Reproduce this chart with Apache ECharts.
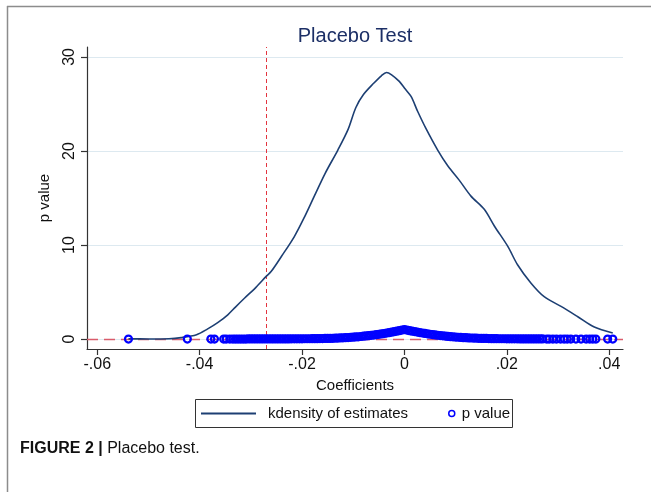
<!DOCTYPE html>
<html>
<head>
<meta charset="utf-8">
<script src="https://cdn.jsdelivr.net/npm/echarts@6/dist/echarts.min.js"></script>
<style>
html,body{margin:0;padding:0;background:#fff;}
#chart{width:651px;height:492px;}
</style>
</head>
<body>
<div id="chart"></div>
<script>
// Tick labels
var xTicks = [-0.06, -0.04, -0.02, 0, 0.02, 0.04];
var yTicks = [0, 10, 20, 30];

// kdensity of estimates: [coefficient, density]
var kdensity = [
  [-0.0539, 0.02], [-0.0500, 0.01], [-0.0460, 0.03], [-0.0436, 0.15], [-0.0406, 0.46],
  [-0.0385, 1.05], [-0.0364, 1.77], [-0.0345, 2.58], [-0.0330, 3.40], [-0.0312, 4.36],
  [-0.0290, 5.50], [-0.0270, 6.66], [-0.0260, 7.20], [-0.0240, 8.80], [-0.0215, 10.9],
  [-0.0195, 13.0], [-0.0176, 15.2], [-0.0155, 17.6], [-0.0130, 20.1], [-0.0110, 22.3],
  [-0.0095, 24.6], [-0.0080, 26.0], [-0.0060, 27.2], [-0.0045, 28.0], [-0.0035, 28.35],
  [-0.0025, 28.1], [-0.0010, 27.4], [0.0000, 26.7], [0.0013, 25.8], [0.0026, 24.2],
  [0.0042, 22.4], [0.0065, 20.1], [0.0085, 18.4], [0.0107, 16.9], [0.0130, 15.2],
  [0.0156, 13.8], [0.0176, 12.0], [0.0202, 9.85], [0.0221, 7.9], [0.0247, 5.96],
  [0.0273, 4.5], [0.0306, 3.47], [0.0338, 2.4], [0.0371, 1.27], [0.0407, 0.64]
];

// p value of each placebo estimate: [coefficient, p]
var pvalues = [
  [-0.0539, 0.00], [-0.0424, 0.00], [-0.0378, 0.00], [-0.0371, 0.00], [-0.0353, 0.00],
  [-0.0348, 0.00], [-0.0341, 0.00],
  [-0.0335, 0.00], [-0.0330, 0.00], [-0.0325, 0.00], [-0.0320, 0.00], [-0.0315, 0.00],
  [-0.0310, 0.00], [-0.0305, 0.01], [-0.0300, 0.01], [-0.0295, 0.01], [-0.0290, 0.01],
  [-0.0285, 0.01], [-0.0280, 0.01], [-0.0275, 0.01], [-0.0270, 0.01], [-0.0265, 0.01],
  [-0.0260, 0.01], [-0.0255, 0.01], [-0.0250, 0.01], [-0.0245, 0.01], [-0.0240, 0.01],
  [-0.0235, 0.01], [-0.0230, 0.01], [-0.0225, 0.01], [-0.0220, 0.02], [-0.0215, 0.02],
  [-0.0210, 0.02], [-0.0205, 0.02], [-0.0200, 0.02], [-0.0195, 0.03], [-0.0190, 0.03],
  [-0.0185, 0.03], [-0.0180, 0.04], [-0.0175, 0.04], [-0.0170, 0.04], [-0.0165, 0.05],
  [-0.0160, 0.05], [-0.0155, 0.06], [-0.0150, 0.07], [-0.0145, 0.07], [-0.0140, 0.08],
  [-0.0135, 0.09], [-0.0130, 0.10], [-0.0125, 0.12], [-0.0120, 0.13], [-0.0115, 0.15],
  [-0.0110, 0.16], [-0.0105, 0.18], [-0.0100, 0.20], [-0.0095, 0.22], [-0.0090, 0.24],
  [-0.0085, 0.27], [-0.0080, 0.30], [-0.0075, 0.33], [-0.0070, 0.36], [-0.0065, 0.39],
  [-0.0060, 0.42], [-0.0055, 0.46], [-0.0050, 0.50], [-0.0045, 0.54], [-0.0040, 0.58],
  [-0.0035, 0.63], [-0.0030, 0.68], [-0.0025, 0.73], [-0.0020, 0.78], [-0.0015, 0.84],
  [-0.0010, 0.89], [-0.0005, 0.95], [0.0000, 1.00], [0.0005, 0.95], [0.0010, 0.89],
  [0.0015, 0.84], [0.0020, 0.79], [0.0025, 0.74], [0.0030, 0.69], [0.0035, 0.64],
  [0.0040, 0.60], [0.0045, 0.55], [0.0050, 0.51], [0.0055, 0.47], [0.0060, 0.44],
  [0.0065, 0.40], [0.0070, 0.37], [0.0075, 0.34], [0.0080, 0.31], [0.0085, 0.28],
  [0.0090, 0.25], [0.0095, 0.23], [0.0100, 0.21], [0.0105, 0.19], [0.0110, 0.17],
  [0.0115, 0.15], [0.0120, 0.14], [0.0125, 0.12], [0.0130, 0.11], [0.0135, 0.10],
  [0.0140, 0.09], [0.0145, 0.08], [0.0150, 0.07], [0.0155, 0.06], [0.0160, 0.06],
  [0.0165, 0.05], [0.0170, 0.04], [0.0175, 0.04], [0.0180, 0.04], [0.0185, 0.03],
  [0.0190, 0.03], [0.0195, 0.03], [0.0200, 0.02], [0.0205, 0.02], [0.0210, 0.02],
  [0.0215, 0.02], [0.0220, 0.02], [0.0225, 0.01], [0.0230, 0.01], [0.0235, 0.01],
  [0.0240, 0.01], [0.0245, 0.01], [0.0250, 0.01], [0.0255, 0.01], [0.0260, 0.01],
  [0.0265, 0.01], [0.0270, 0.01],
  [0.0278, 0.00], [0.0283, 0.00], [0.0290, 0.00], [0.0297, 0.00], [0.0305, 0.00],
  [0.0312, 0.00], [0.0318, 0.00], [0.0325, 0.00], [0.0335, 0.00], [0.0345, 0.00],
  [0.0355, 0.00], [0.0362, 0.00], [0.0368, 0.00], [0.0374, 0.00], [0.0397, 0.00],
  [0.0407, 0.00]
];

// reference lines
var actualEstimate = -0.027;
var zeroLine = 0;

var FONT = '"Liberation Sans", Arial, sans-serif';
var chart = echarts.init(document.getElementById('chart'), null, {renderer: 'canvas'});

function fmtTick(v) {
  if (Math.abs(v) < 1e-9) return '0';
  var s = (Math.round(v * 100) / 100).toString();
  return s.replace('0.', '.');
}

var option = {
  backgroundColor: '#ffffff',
  animation: false,
  title: {
    text: 'Placebo Test',
    left: 350,
    top: 21,
    textAlign: 'center',
    textStyle: {fontFamily: FONT, fontSize: 20, fontWeight: 'normal', color: '#1c2f66'}
  },
  grid: {left: 87, right: 28, top: 47, bottom: 143, containLabel: false},
  xAxis: {
    type: 'value',
    min: -0.062,
    max: 0.0427,
    name: 'Coefficients',
    nameLocation: 'middle',
    nameGap: 29,
    nameTextStyle: {fontFamily: FONT, fontSize: 15, color: '#111'},
    axisLine: {show: true, onZero: false, lineStyle: {color: '#333', width: 1.2}},
    axisTick: {show: true, length: 6, inside: false, customValues: xTicks, lineStyle: {color: '#333', width: 1.2}},
    axisLabel: {customValues: xTicks, formatter: fmtTick, fontFamily: FONT, fontSize: 16, color: '#111', margin: 8},
    splitLine: {show: false}
  },
  yAxis: {
    type: 'value',
    min: -1.06,
    max: 31.06,
    name: 'p value',
    nameLocation: 'middle',
    nameGap: 35,
    nameTextStyle: {fontFamily: FONT, fontSize: 15, color: '#111'},
    axisLine: {show: true, onZero: false, lineStyle: {color: '#333', width: 1.2}},
    axisTick: {show: true, length: 6, customValues: yTicks, lineStyle: {color: '#333', width: 1.2}},
    axisLabel: {customValues: yTicks, rotate: 90, fontFamily: FONT, fontSize: 16, color: '#111', margin: 9},
    splitLine: {show: true, lineStyle: {color: '#dde9f0', width: 1}}
  },
  legend: [
    {
      data: [{name: 'kdensity of estimates', icon: 'rect', itemStyle: {color: '#1d3f73'}}],
      left: 201, top: 406,
      itemWidth: 55, itemHeight: 2,
      padding: 0,
      selectedMode: false,
      textStyle: {fontFamily: FONT, fontSize: 15, color: '#111', padding: [0, 0, 0, 7]}
    },
    {
      data: [{name: 'p value', icon: 'circle', itemStyle: {color: 'transparent', borderColor: '#0000ff', borderWidth: 1.5}}],
      left: 448, top: 406,
      itemWidth: 6, itemHeight: 6,
      padding: 0,
      selectedMode: false,
      textStyle: {fontFamily: FONT, fontSize: 15, color: '#111', padding: [0, 0, 0, 2]}
    }
  ],
  series: [
    {
      name: 'kdensity of estimates',
      type: 'line',
      data: kdensity,
      smooth: 0.3,
      showSymbol: false,
      symbol: 'none',
      lineStyle: {color: '#1d3f73', width: 1.6},
      itemStyle: {color: '#1d3f73'},
      z: 3,
      markLine: {
        silent: true,
        precision: 6,
        z: 1,
        symbol: ['none', 'none'],
        label: {show: false},
        animation: false,
        lineStyle: {color: '#e3343f', type: [4, 3], width: 1, opacity: 1},
        emphasis: {disabled: true},
        data: [
          [{coord: [actualEstimate, -1.06]}, {coord: [actualEstimate, 31.06]}]
        ]
      }
    },
    {
      name: 'p value',
      type: 'scatter',
      data: pvalues,
      symbol: 'circle',
      symbolSize: 7,
      itemStyle: {color: 'transparent', borderColor: '#0000ff', borderWidth: 2.2, opacity: 1},
      z: 4,
      markLine: {
        silent: true,
        precision: 6,
        z: 1,
        symbol: ['none', 'none'],
        label: {show: false},
        animation: false,
        lineStyle: {color: '#d95c6b', type: [11, 6], width: 1.3, opacity: 1},
        emphasis: {disabled: true},
        data: [
          [{coord: [-0.062, zeroLine]}, {coord: [0.0427, zeroLine]}]
        ]
      }
    }
  ],
  graphic: [
    {type: 'line', shape: {x1: 7, y1: 6.5, x2: 651, y2: 6.5}, style: {stroke: '#8c8c8c', lineWidth: 1.5}, silent: true},
    {type: 'line', shape: {x1: 7.5, y1: 6, x2: 7.5, y2: 492}, style: {stroke: '#8c8c8c', lineWidth: 1.5}, silent: true},
    {type: 'rect', shape: {x: 195.5, y: 399.5, width: 317, height: 28}, style: {fill: 'none', stroke: '#333', lineWidth: 1}, silent: true},
    {
      type: 'text', left: 20, top: 441, silent: true,
      style: {
        text: '{b|FIGURE 2 |} Placebo test.',
        font: '16px ' + FONT,
        fill: '#111',
        rich: {b: {fontWeight: 'bold', fontSize: 16, fontFamily: FONT, fill: '#111'}}
      }
    }
  ]
};
chart.setOption(option);
</script>
</body>
</html>
